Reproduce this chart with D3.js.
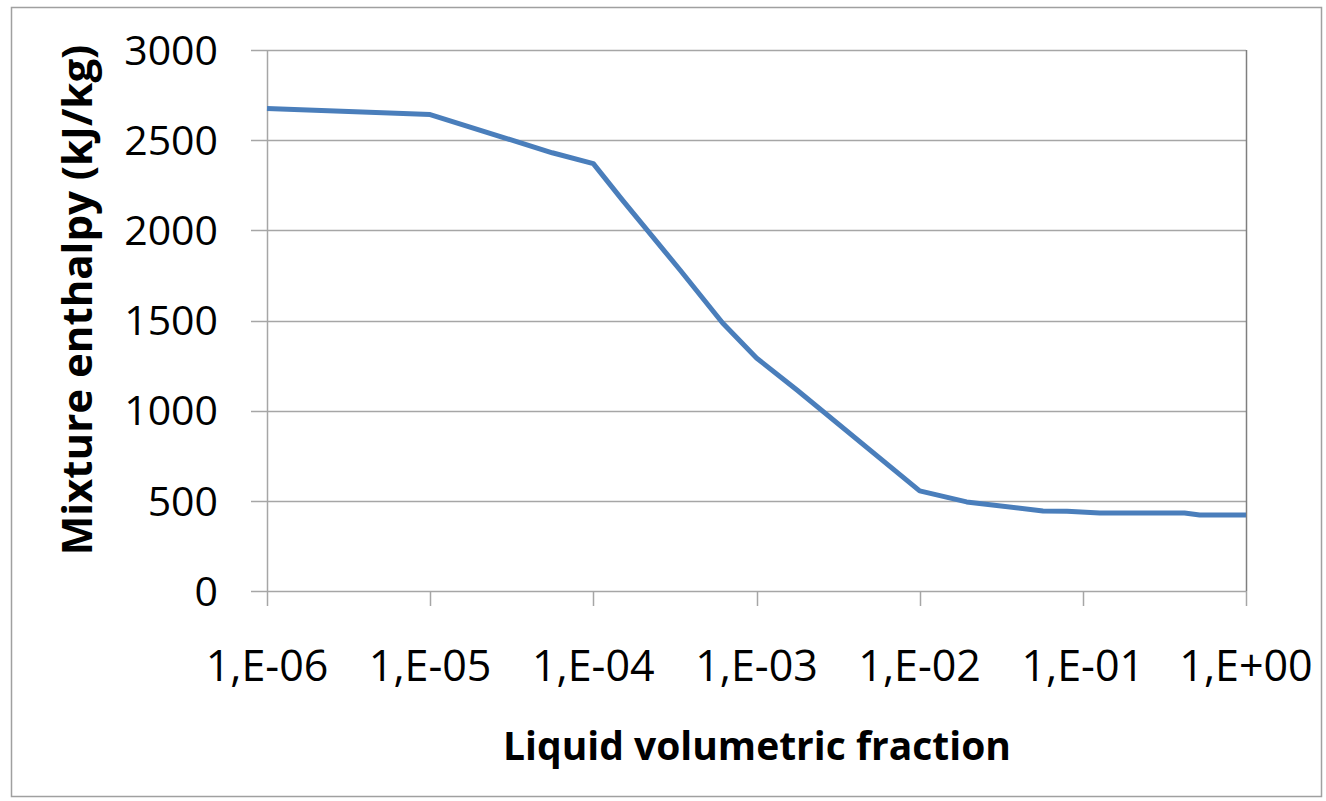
<!DOCTYPE html>
<html><head><meta charset="utf-8">
<script src="https://cdn.jsdelivr.net/npm/d3@7"></script>
<style>html,body{margin:0;padding:0;background:#fff;}</style>
</head><body>
<svg id="chart" width="1326" height="801"></svg>
<script>
// Liquid volumetric fraction (x) and mixture enthalpy in kJ/kg (y)
const fraction = [1e-6, 1e-5, 5.6e-5, 1e-4, 1.5e-4, 3.4e-4, 6.2e-4, 1e-3, 1.77e-3, 1e-2, 0.0194, 0.057, 0.08, 0.127, 0.42, 0.52, 1];
const enthalpy = [2675, 2642, 2430, 2370, 2170, 1780, 1486, 1292, 1115, 555, 494, 444, 442, 433, 432, 422, 421];
const xTickValues = [1e-6, 1e-5, 1e-4, 1e-3, 1e-2, 1e-1, 1];
const xTickLabels = ["1,E-06", "1,E-05", "1,E-04", "1,E-03", "1,E-02", "1,E-01", "1,E+00"];
const yTickValues = [0, 500, 1000, 1500, 2000, 2500, 3000];
const xTitle = "Liquid volumetric fraction";
const yTitle = "Mixture enthalpy (kJ/kg)";

const svg = d3.select("#chart");
const L = 267, R = 1246, T = 50, B = 591;
const font = "'Open Sans', sans-serif";

// outer frame
svg.append("rect").attr("x", 11.5).attr("y", 7.5).attr("width", 1310).attr("height", 789)
  .attr("fill", "#fff").attr("stroke", "#a0a0a0").attr("stroke-width", 1.5);

const x = d3.scaleLog().domain([1e-6, 1]).range([L, R]);
const y = d3.scaleLinear().domain([0, 3000]).range([B, T]);

// gridlines
svg.append("g").selectAll("line").data(yTickValues).join("line")
  .attr("x1", L - 16).attr("x2", R).attr("y1", d => Math.round(y(d)) + 0.5).attr("y2", d => Math.round(y(d)) + 0.5)
  .attr("stroke", "#a6a6a6").attr("stroke-width", 1.5);

// y axis line
svg.append("line").attr("x1", L + 0.5).attr("x2", L + 0.5).attr("y1", T).attr("y2", B)
  .attr("stroke", "#a6a6a6").attr("stroke-width", 1.5);
// right border of plot area
svg.append("line").attr("x1", R + 0.5).attr("x2", R + 0.5).attr("y1", T).attr("y2", B)
  .attr("stroke", "#7f7f7f").attr("stroke-width", 1.5);

// x axis ticks
svg.append("g").selectAll("line").data(xTickValues).join("line")
  .attr("x1", d => Math.round(x(d)) + 0.5).attr("x2", d => Math.round(x(d)) + 0.5)
  .attr("y1", B).attr("y2", B + 15)
  .attr("stroke", "#a6a6a6").attr("stroke-width", 1.5);

// y tick labels
svg.append("g").selectAll("text").data(yTickValues).join("text")
  .attr("x", 218).attr("y", d => y(d)).attr("dy", "0.36em")
  .attr("text-anchor", "end").attr("font-family", font).attr("font-size", 41)
  .attr("fill", "#000").text(d => d);

// x tick labels
svg.append("g").selectAll("text").data(xTickValues).join("text")
  .attr("x", d => x(d)).attr("y", 681)
  .attr("text-anchor", "middle").attr("font-family", font).attr("font-size", 43)
  .attr("fill", "#000").text((d, i) => xTickLabels[i]);

// axis titles
svg.append("text").attr("x", 757).attr("y", 760).attr("text-anchor", "middle")
  .attr("font-family", font).attr("font-weight", "bold").attr("font-size", 39)
  .attr("fill", "#000").text(xTitle);
svg.append("text").attr("transform", "translate(92,300) rotate(-90)").attr("text-anchor", "middle")
  .attr("font-family", font).attr("font-weight", "bold").attr("font-size", 42)
  .attr("fill", "#000").text(yTitle);

// series line
const data = fraction.map((f, i) => ({f, h: enthalpy[i]}));
svg.append("path").datum(data)
  .attr("fill", "none").attr("stroke", "#4a7ebb").attr("stroke-width", 5)
  .attr("stroke-linejoin", "round")
  .attr("d", d3.line().x(d => x(d.f)).y(d => y(d.h)));
</script>
</body></html>
